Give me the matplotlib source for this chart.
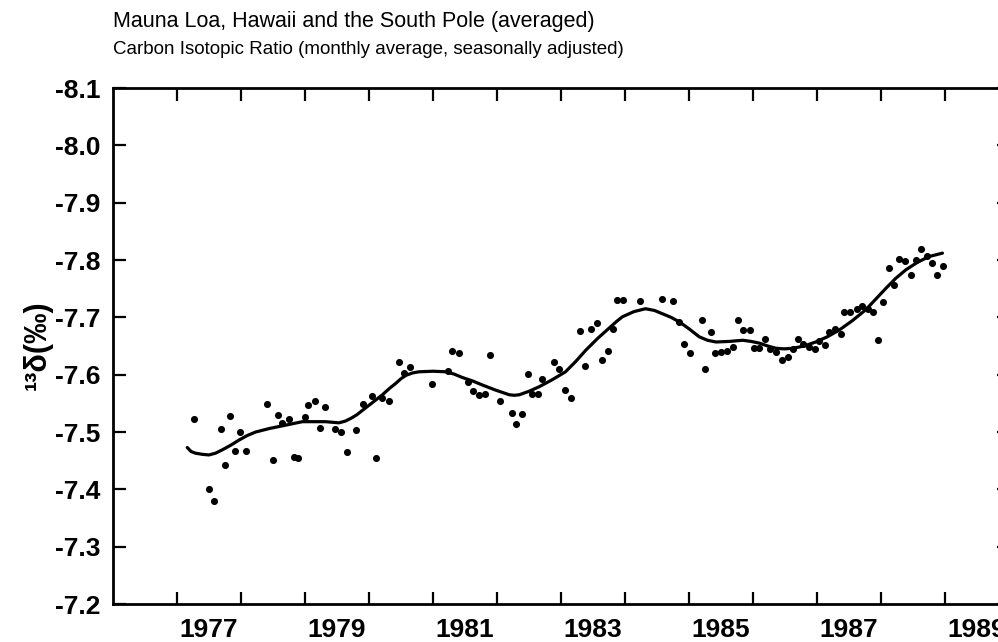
import matplotlib as mpl
mpl.use('Agg')
import matplotlib.pyplot as plt

plt.rcParams['font.family'] = ['Liberation Sans', 'DejaVu Sans']
plt.rcParams['axes.unicode_minus'] = False

# monthly values
years = [1977.27, 1977.50, 1977.58, 1977.68, 1977.75, 1977.83, 1977.90, 1977.99,
         1978.08, 1978.41, 1978.50, 1978.58, 1978.64, 1978.75, 1978.83, 1978.89,
         1979.00, 1979.05, 1979.15, 1979.23, 1979.32, 1979.47, 1979.57, 1979.65,
         1979.80, 1979.90, 1980.04, 1980.11, 1980.21, 1980.32, 1980.47, 1980.54,
         1980.64, 1980.98, 1981.23, 1981.30, 1981.40, 1981.55, 1981.63, 1981.72,
         1981.81, 1981.89, 1982.05, 1982.23, 1982.30, 1982.39, 1982.48, 1982.55,
         1982.64, 1982.71, 1982.89, 1982.97, 1983.06, 1983.15, 1983.29, 1983.38,
         1983.47, 1983.56, 1983.64, 1983.73, 1983.81, 1983.88, 1983.97, 1984.23,
         1984.58, 1984.75, 1984.84, 1984.92, 1985.01, 1985.20, 1985.25, 1985.34,
         1985.41, 1985.50, 1985.60, 1985.69, 1985.77, 1985.84, 1985.95, 1986.02,
         1986.10, 1986.18, 1986.27, 1986.36, 1986.45, 1986.54, 1986.62, 1986.70,
         1986.78, 1986.87, 1986.97, 1987.03, 1987.13, 1987.19, 1987.28, 1987.37,
         1987.42, 1987.52, 1987.62, 1987.71, 1987.80, 1987.88, 1987.95, 1988.03,
         1988.12, 1988.20, 1988.28, 1988.38, 1988.47, 1988.54, 1988.63, 1988.72,
         1988.79, 1988.88, 1988.97]
ratio = [-7.522, -7.401, -7.380, -7.505, -7.442, -7.528, -7.466, -7.500,
         -7.466, -7.549, -7.451, -7.530, -7.516, -7.523, -7.456, -7.454,
         -7.526, -7.547, -7.554, -7.507, -7.543, -7.505, -7.500, -7.465,
         -7.503, -7.548, -7.562, -7.454, -7.559, -7.554, -7.622, -7.603,
         -7.613, -7.584, -7.606, -7.641, -7.638, -7.587, -7.572, -7.565,
         -7.567, -7.634, -7.554, -7.534, -7.514, -7.532, -7.602, -7.567,
         -7.566, -7.592, -7.622, -7.610, -7.573, -7.560, -7.677, -7.615,
         -7.680, -7.690, -7.626, -7.642, -7.679, -7.731, -7.731, -7.729,
         -7.732, -7.728, -7.692, -7.654, -7.638, -7.696, -7.610, -7.674,
         -7.637, -7.640, -7.641, -7.648, -7.695, -7.678, -7.678, -7.646,
         -7.647, -7.662, -7.644, -7.640, -7.626, -7.630, -7.644, -7.662,
         -7.653, -7.648, -7.645, -7.659, -7.651, -7.674, -7.679, -7.671,
         -7.709, -7.710, -7.714, -7.719, -7.715, -7.710, -7.660, -7.726,
         -7.786, -7.756, -7.802, -7.799, -7.774, -7.800, -7.820, -7.807,
         -7.795, -7.774, -7.790]

# smoothed fit curve
fit_years = [1977.16, 1977.22, 1977.29, 1977.40, 1977.50, 1977.60, 1977.71, 1977.84,
             1977.97, 1978.10, 1978.23, 1978.44, 1978.70, 1978.96, 1979.07, 1979.32,
             1979.53, 1979.63, 1979.72, 1979.81, 1979.90, 1980.05, 1980.21, 1980.32,
             1980.42, 1980.50, 1980.58, 1980.68, 1980.78, 1981.00, 1981.20, 1981.33,
             1981.46, 1981.62, 1981.77, 1981.98, 1982.19, 1982.27, 1982.35, 1982.50,
             1982.66, 1982.86, 1983.07, 1983.23, 1983.39, 1983.58, 1983.78, 1983.87,
             1983.96, 1984.14, 1984.32, 1984.46, 1984.59, 1984.72, 1984.85, 1985.00,
             1985.16, 1985.29, 1985.42, 1985.63, 1985.84, 1985.97, 1986.10, 1986.23,
             1986.36, 1986.49, 1986.62, 1986.80, 1986.98, 1987.16, 1987.35, 1987.55,
             1987.76, 1987.92, 1988.08, 1988.23, 1988.39, 1988.57, 1988.75, 1988.96]
fit_ratio = [-7.473, -7.466, -7.463, -7.461, -7.460, -7.463, -7.469, -7.477,
             -7.486, -7.494, -7.500, -7.506, -7.512, -7.518, -7.518, -7.518,
             -7.516, -7.519, -7.524, -7.530, -7.538, -7.551, -7.565, -7.576,
             -7.585, -7.593, -7.599, -7.603, -7.605, -7.606, -7.605, -7.601,
             -7.595, -7.589, -7.582, -7.573, -7.565, -7.564, -7.565, -7.571,
             -7.579, -7.591, -7.605, -7.623, -7.643, -7.664, -7.684, -7.693,
             -7.701, -7.710, -7.715, -7.712, -7.706, -7.700, -7.692, -7.680,
             -7.666, -7.660, -7.657, -7.658, -7.660, -7.658, -7.655, -7.650,
             -7.646, -7.645, -7.646, -7.650, -7.657, -7.666, -7.678, -7.694,
             -7.713, -7.732, -7.751, -7.768, -7.783, -7.796, -7.806, -7.812]

ytick_vals = [-8.1, -8.0, -7.9, -7.8, -7.7, -7.6, -7.5, -7.4, -7.3, -7.2]
year_labels = ['1977', '1979', '1981', '1983', '1985', '1987', '1989']

fig = plt.figure(figsize=(9.98, 6.42), dpi=100)
ax = fig.add_axes([113 / 998, 38 / 642, 896 / 998, 516 / 642])

ax.plot(fit_years, fit_ratio, color='black', lw=2.3,
        solid_capstyle='round', solid_joinstyle='round')
ax.scatter(years, ratio, s=26, color='black', zorder=3, linewidths=0)

ax.set_xlim(1976, 1990)
ax.set_ylim(-7.2, -8.1)

ax.set_yticks(ytick_vals)
ax.set_yticklabels(['%.1f' % v for v in ytick_vals], fontweight='bold')

ax.set_xticks(range(1977, 1990))
ax.set_xticklabels([])
ax.set_xticks([int(l) + 0.5 for l in year_labels], minor=True)
ax.set_xticklabels(year_labels, minor=True, fontweight='bold')

ax.tick_params(which='major', direction='in', length=9, width=1.6,
               top=True, right=True, labelsize=19, pad=9)
ax.tick_params(axis='x', which='minor', length=0, labelsize=19, pad=10)

for s in ax.spines.values():
    s.set_linewidth(2.0)

fig.text(38 / 998, 1 - 345 / 642, '¹³δ(‰)', rotation=90, fontsize=22,
         fontweight='bold', ha='center', va='center')
fig.text(113 / 998, 1 - 22 / 642, 'Mauna Loa, Hawaii and the South Pole (averaged)',
         fontsize=15.5, ha='left', va='center')
fig.text(113 / 998, 1 - 49 / 642, 'Carbon Isotopic Ratio (monthly average, seasonally adjusted)',
         fontsize=13.5, ha='left', va='center')

fig.savefig('out.png', dpi=100)
